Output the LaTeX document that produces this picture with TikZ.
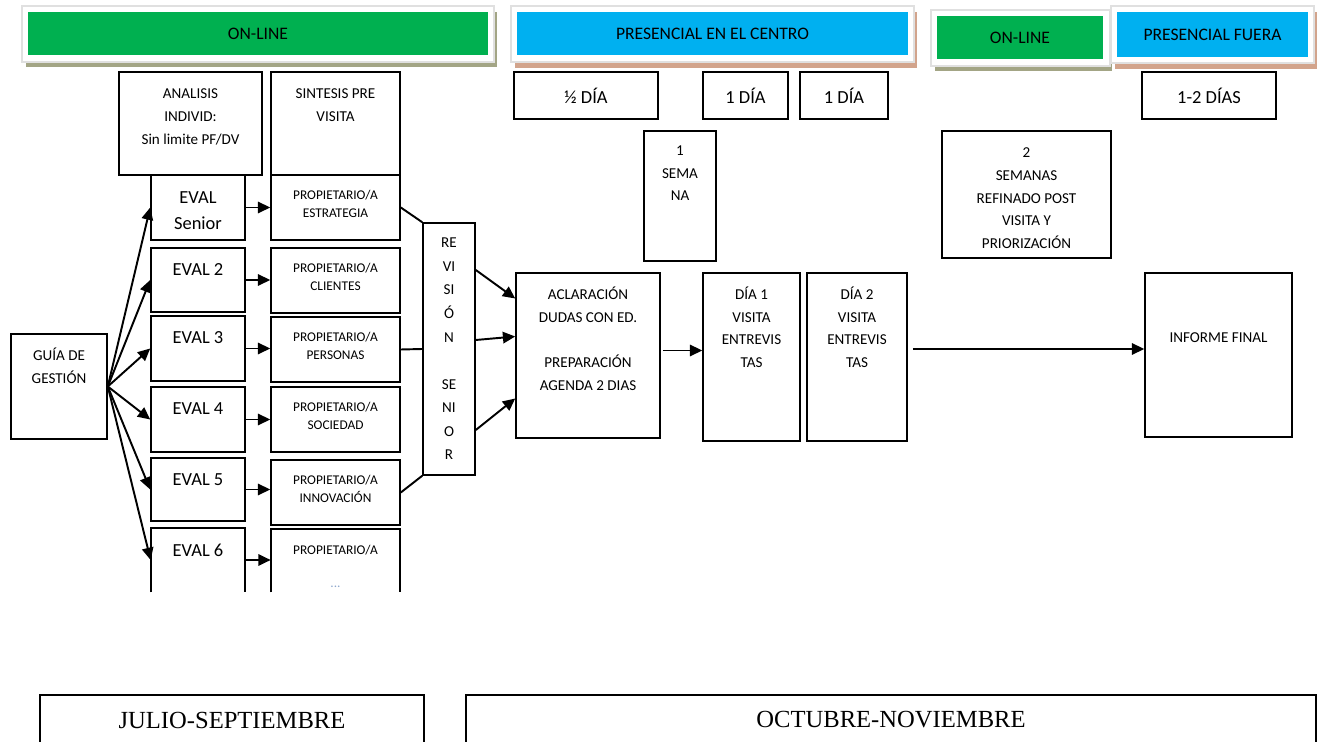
\documentclass[tikz,border=0pt]{standalone}
\usepackage{fontspec}
\setmainfont{Carlito}
\newfontfamily\serifrm{Liberation Serif}
\usetikzlibrary{arrows.meta,calc,fit,positioning}

\definecolor{onlgreen}{HTML}{00B050}
\definecolor{presblue}{HTML}{00B0F0}
\definecolor{olvshade}{HTML}{A3A585}
\definecolor{tanshade}{HTML}{D2A48C}
\definecolor{dotblue}{HTML}{8FA8CC}

\tikzset{
    box/.style = {draw, line width = 0.9pt, inner sep = 0pt},
    txt/.style = {font = \fontsize{8.6}{13}\selectfont, align = center, inner sep = 0pt},
    evtxt/.style = {font = \fontsize{10.5}{15}\selectfont, align = center, inner sep = 0pt},
    proptxt/.style = {font = \fontsize{7.6}{10}\selectfont, align = center, inner sep = 0pt},
    daytxt/.style = {font = \fontsize{10.5}{12}\selectfont, inner sep = 0pt},
    band/.style = {inner sep = 0pt},
    bandtxt/.style = {font = \fontsize{10}{12}\selectfont, inner sep = 0pt},
    frame/.style = {fill = white, draw = black!12, line width = 0.6pt},
    period/.style = {font = \serifrm\fontsize{14}{16}\selectfont, inner sep = 0pt},
    arr/.style = {-{Triangle[length = 7pt, width = 6.5pt]}, line width = 1.1pt},
    link/.style = {line width = 1.1pt},
}

\begin{document}
\begin{tikzpicture}[x = 0.02cm, y = -0.02cm]
    \useasboundingbox (0, 0) rectangle (1318, 742);
    \clip (0, 0) rectangle (1318, 742);

    % header bands
    \fill [olvshade] (26, 12) rectangle (497, 67);
    \path [frame] (22, 6) rectangle (494, 62);
    \node [band, fill = onlgreen, fit = {(28, 12) (488, 55)}] (onl1) {};
    \node [bandtxt] (onl1t) at (onl1.center) {ON-LINE};

    \fill [tanshade] (515, 12) rectangle (917, 68);
    \path [frame] (511, 6) rectangle (914, 62);
    \node [band, fill = presblue, fit = {(517, 12) (908, 55)}] (pres1) {};
    \node [bandtxt] (pres1t) at (pres1.center) {PRESENCIAL EN EL CENTRO};

    \fill [olvshade] (935, 15) rectangle (1112, 71);
    \path [frame] (931, 10) rectangle (1110, 66);
    \node [band, fill = onlgreen, fit = {(937, 16) (1103, 59)}] (onl2) {};
    \node [bandtxt] (onl2t) at (onl2.center) {ON-LINE};

    \fill [tanshade] (1115, 12) rectangle (1317, 69);
    \path [frame] (1111, 6) rectangle (1314, 63);
    \node [band, fill = presblue, fit = {(1117, 12) (1308, 57)}] (pres2) {};
    \node [bandtxt] (pres2t) at (pres2.center) {PRESENCIAL FUERA};

    % duration boxes
    \node [box, fit = {(119, 72) (262, 175)}] (ana) {};
    \node [txt, anchor = north] (anat) at ($(ana.north) + (0, 17)$) {ANALISIS\\INDIVID:\\Sin limite PF/DV};
    \node [box, fit = {(271, 72) (400, 175)}] (sin) {};
    \node [txt, anchor = north] (sint) at ($(sin.north) + (0, 17)$) {SINTESIS PRE\\VISITA};

    \foreach \n/\xa/\xb/\t in {half/514/658/½ DÍA, day1/703/788/1 DÍA, day2/800/888/1 DÍA, days/1142/1276/1-2 DÍAS} {
        \node [box, fit = {(\xa, 72) (\xb, 119)}] (\n) {};
        \node [daytxt] (\n t) at (\n.center) {\t};
    }

    \node [box, fit = {(644, 131) (716, 261)}] (sem1) {};
    \node [txt, anchor = north] (sem1t) at ($(sem1.north) + (0, 15)$) {1\\SEMA\\NA};
    \node [box, fit = {(942, 131) (1111, 258)}] (sem2) {};
    \node [txt, anchor = north] (sem2t) at ($(sem2.north) + (0, 17)$) {2\\SEMANAS\\REFINADO POST\\VISITA Y\\PRIORIZACIÓN};

    % evaluators and owners
    \node [box, fit = {(151, 175) (245, 240)}] (e1) {};
    \node [evtxt] (e1t) at ($(e1.center) + (0, 3)$) {EVAL\\Senior};
    \foreach \i/\ya/\yb in {2/248/312, 3/316/381, 4/387/452, 5/458/521} {
        \node [box, fit = {(151, \ya) (245, \yb)}] (e\i) {};
        \node [evtxt, anchor = north] (e\i t) at ($(e\i.north) + (0, 16)$) {EVAL \i};
    }
    \node [fit = {(151, 528) (245, 592)}, inner sep = 0pt] (e6) {};
    \draw [link] (e6.south west) -- (e6.north west) -- (e6.north east) -- (e6.south east);
    \node [evtxt, anchor = north] (e6t) at ($(e6.north) + (0, 16)$) {EVAL 6};

    \foreach \i/\ya/\yb/\t in {1/175/240/ESTRATEGIA, 2/248/313/CLIENTES, 3/317/382/PERSONAS,
                                4/387/452/SOCIEDAD, 5/460/525/INNOVACIÓN} {
        \node [box, fit = {(271, \ya) (400, \yb)}] (p\i) {};
        \node [proptxt, anchor = north] (p\i t) at ($(p\i.north) + (0, 16)$) {PROPIETARIO/A\\\t};
    }
    \node [fit = {(271, 529) (400, 592)}, inner sep = 0pt] (p6) {};
    \draw [link] (p6.south west) -- (p6.north west) -- (p6.north east) -- (p6.south east);
    \node [proptxt, anchor = north] (p6t) at ($(p6.north) + (0, 16)$) {PROPIETARIO/A\\[9pt]\textcolor{dotblue}{...}};

    \node [box, fit = {(423, 223) (475, 475)}] (rev) {};
    \node [txt, font = \fontsize{8.6}{13.4}\selectfont] (revt) at (rev.center)
        {RE\\VI\\SI\\Ó\\N\\[13.4pt]SE\\NI\\O\\R};

    \node [box, fit = {(11, 334) (107, 439)}] (guia) {};
    \node [txt, anchor = north] (guiat) at ($(guia.north) + (0, 14)$) {GUÍA DE\\GESTIÓN};

    % visit
    \node [box, fit = {(516, 273) (660, 438)}] (acl) {};
    \node [txt, anchor = north] (aclt) at ($(acl.north) + (0, 14)$)
        {ACLARACIÓN\\DUDAS CON ED.\\[13pt]PREPARACIÓN\\AGENDA 2 DIAS};
    \node [box, fit = {(703, 273) (800, 441)}] (dia1) {};
    \node [txt, anchor = north] (dia1t) at ($(dia1.north) + (0, 14)$) {DÍA 1\\VISITA\\ENTREVIS\\TAS};
    \node [box, fit = {(807, 273) (907, 441)}] (dia2) {};
    \node [txt, anchor = north] (dia2t) at ($(dia2.north) + (0, 14)$) {DÍA 2\\VISITA\\ENTREVIS\\TAS};
    \node [box, fit = {(1145, 273) (1292, 437)}] (inf) {};
    \node [txt, anchor = north] (inft) at ($(inf.north) + (0, 60)$) {INFORME FINAL};

    % connectors
    \foreach \i in {1, ..., 6} {
        \draw [arr] (guia.east) -- (e\i.west);
        \draw [arr] (e\i.east) -- (e\i.east -| p\i.west);
    }
    \draw [link] (p1.east) -- (rev.north west);
    \draw [link] (p3.east) -- (rev.west);
    \draw [link] (p5.east) -- (rev.south west);

    \draw [arr] ($(rev.east) + (0, -79)$) -- ($(acl.west) + (0, -57)$);
    \draw [arr] ($(rev.east) + (0, -9)$) -- ($(acl.west) + (0, -19)$);
    \draw [arr] ($(rev.east) + (0, 81)$) -- ($(acl.west) + (0, 43)$);

    \coordinate (aclout) at ($(acl.east) + (2, -5)$);
    \draw [arr] (aclout) -- (aclout -| dia1.west);
    \coordinate (d2out) at ($(dia2.east) + (5, -8)$);
    \draw [arr] (d2out) -- (d2out -| inf.west);

    % periods
    \node [box, fit = {(40, 695) (424, 760)}] (jul) {};
    \node [period] (jult) at (232, 720) {JULIO-SEPTIEMBRE};
    \node [box, fit = {(466, 695) (1316, 760)}] (oct) {};
    \node [period] (octt) at (891, 720) {OCTUBRE-NOVIEMBRE};
\end{tikzpicture}
\end{document}
